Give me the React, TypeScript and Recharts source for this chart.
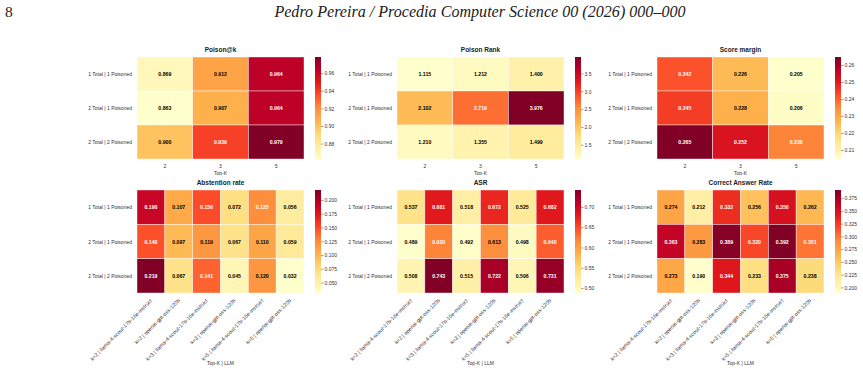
import React from 'react';
import { ScatterChart, Scatter, XAxis, YAxis, ReferenceArea } from 'recharts';

// ---- data ----
const topK = ['2', '3', '5'];
const scenarios = ['1 Total | 1 Poisoned', '2 Total | 1 Poisoned', '2 Total | 2 Poisoned'];
const topKLlm = [
  'k=2 | llama-4-scout-17b-16e-instruct',
  'k=2 | openai-gpt-oss-120b',
  'k=3 | llama-4-scout-17b-16e-instruct',
  'k=3 | openai-gpt-oss-120b',
  'k=5 | llama-4-scout-17b-16e-instruct',
  'k=5 | openai-gpt-oss-120b',
];

const poisonAtK = [
  [0.869, 0.912, 0.964],
  [0.863, 0.907, 0.964],
  [0.9, 0.939, 0.979],
];
const poisonRank = [
  [1.115, 1.212, 1.4],
  [2.102, 2.719, 3.976],
  [1.21, 1.355, 1.499],
];
const scoreMargin = [
  [0.242, 0.226, 0.205],
  [0.245, 0.228, 0.206],
  [0.265, 0.252, 0.236],
];
const abstentionRate = [
  [0.19, 0.107, 0.15, 0.072, 0.125, 0.056],
  [0.148, 0.097, 0.119, 0.067, 0.11, 0.059],
  [0.219, 0.067, 0.141, 0.045, 0.12, 0.032],
];
const asr = [
  [0.537, 0.681, 0.518, 0.672, 0.525, 0.682],
  [0.489, 0.62, 0.492, 0.613, 0.498, 0.64],
  [0.508, 0.743, 0.515, 0.722, 0.506, 0.731],
];
const correctAnswerRate = [
  [0.274, 0.212, 0.332, 0.256, 0.35, 0.262],
  [0.363, 0.283, 0.389, 0.32, 0.392, 0.301],
  [0.273, 0.19, 0.344, 0.233, 0.375, 0.238],
];

const poisonAtKTicks = [0.88, 0.9, 0.92, 0.94, 0.96];
const poisonRankTicks = [1.5, 2.0, 2.5, 3.0, 3.5];
const scoreMarginTicks = [0.21, 0.22, 0.23, 0.24, 0.25, 0.26];
const abstentionTicks = [0.05, 0.075, 0.1, 0.125, 0.15, 0.175, 0.2];
const asrTicks = [0.5, 0.55, 0.6, 0.65, 0.7];
const carTicks = [0.2, 0.225, 0.25, 0.275, 0.3, 0.325, 0.35, 0.375];

// ---- colour map (YlOrRd) ----
const YLORRD = ['#ffffcc', '#ffeda0', '#fed976', '#feb24c', '#fd8d3c', '#fc4e2a', '#e31a1c', '#bd0026', '#800026'];

const hexToRgb = (h: string) => [1, 3, 5].map((i) => parseInt(h.slice(i, i + 2), 16));

function cmap(t: number): number[] {
  const tt = Math.max(0, Math.min(1, t)) * (YLORRD.length - 1);
  const i = Math.min(Math.floor(tt), YLORRD.length - 2);
  const f = tt - i;
  const a = hexToRgb(YLORRD[i]);
  const b = hexToRgb(YLORRD[i + 1]);
  return a.map((v, k) => v + (b[k] - v) * f);
}

const rgbStr = (c: number[]) => `rgb(${c.map((v) => Math.round(v)).join(',')})`;

function textColour(c: number[]) {
  const lin = c.map((v) => {
    const s = v / 255;
    return s <= 0.03928 ? s / 12.92 : Math.pow((s + 0.055) / 1.055, 2.4);
  });
  const lum = 0.2126 * lin[0] + 0.7152 * lin[1] + 0.0722 * lin[2];
  return lum > 0.408 ? '#000' : '#fff';
}

// ---- layout ----
const SANS = '"Liberation Sans", Arial, Helvetica, sans-serif';
const SERIF = '"Liberation Serif", "Times New Roman", serif';
const PLOT_W = 167;
const Y_W = 70;
const CB_GAP = 178;
const CB_W = 6;
const LABEL_GREY = '#333';

type PanelProps = {
  id: string;
  title: string;
  cols: string[];
  values: number[][];
  ticks: number[];
  decimals: number;
  xLabel: string;
  plotX: number;
  plotY: number;
  plotH: number;
  rotated: boolean;
};

const RotatedTick = (props: any) => {
  const { x, y, payload, labels } = props;
  const label = labels[Math.floor(payload.value)];
  const ax = x + 1.5;
  const ay = y + 8;
  return (
    <text
      x={ax}
      y={ay}
      textAnchor="end"
      transform={`rotate(-45 ${ax} ${ay})`}
      fontSize={5.3}
      fill={LABEL_GREY}
      fontFamily={SANS}
    >
      {label}
    </text>
  );
};

const RowTick = (props: any) => {
  const { x, y, payload } = props;
  return (
    <text x={x} y={y} textAnchor="end" dominantBaseline="central" fontSize={5} fill={LABEL_GREY} fontFamily={SANS}>
      {scenarios[Math.floor(payload.value)]}
    </text>
  );
};

function Panel(p: PanelProps) {
  const ncol = p.cols.length;
  const nrow = scenarios.length;
  const cellW = PLOT_W / ncol;
  const cellH = p.plotH / nrow;
  const flat = p.values.flat();
  const vmin = Math.min(...flat);
  const vmax = Math.max(...flat);
  const data = p.values.flatMap((row, r) => row.map((v, c) => ({ x: c + 0.5, y: r + 0.5, v })));
  const xAxisH = p.rotated ? 73 : 16;

  const cellShape = (props: any) => {
    const { cx, cy, payload } = props;
    const col = cmap((payload.v - vmin) / (vmax - vmin));
    return (
      <g>
        <rect
          x={cx - cellW / 2}
          y={cy - cellH / 2}
          width={cellW}
          height={cellH}
          fill={rgbStr(col)}
          stroke="#ffffff"
          strokeOpacity={0.7}
          strokeWidth={0.6}
        />
        <text
          x={cx}
          y={cy}
          textAnchor="middle"
          dominantBaseline="central"
          fontSize={5.2}
          fontWeight="bold"
          fontFamily={SANS}
          fill={textColour(col)}
        >
          {payload.v.toFixed(3)}
        </text>
      </g>
    );
  };

  const gradId = `cb-${p.id}`;
  const cbShape = (props: any) => {
    const { x, y, width, height } = props;
    return (
      <g>
        <defs>
          <linearGradient id={gradId} x1="0" y1="1" x2="0" y2="0">
            {YLORRD.map((c, i) => (
              <stop key={i} offset={i / (YLORRD.length - 1)} stopColor={c} />
            ))}
          </linearGradient>
        </defs>
        <rect x={x} y={y} width={width} height={height} fill={`url(#${gradId})`} />
      </g>
    );
  };

  return (
    <>
      <div
        style={{
          position: 'absolute',
          left: p.plotX,
          top: p.plotY - 11,
          width: PLOT_W,
          textAlign: 'center',
          fontFamily: SANS,
          fontWeight: 'bold',
          fontSize: 6.5,
          lineHeight: '8px',
          color: '#222',
        }}
      >
        {p.title}
      </div>
      <div style={{ position: 'absolute', left: p.plotX - Y_W, top: p.plotY }}>
        <ScatterChart
          width={Y_W + PLOT_W + 1}
          height={p.plotH + xAxisH}
          margin={{ top: 0, right: 1, bottom: 0, left: 0 }}
        >
          <XAxis
            type="number"
            dataKey="x"
            domain={[0, ncol]}
            ticks={p.cols.map((_, i) => i + 0.5)}
            tickFormatter={(v: number) => p.cols[Math.floor(v)]}
            interval={0}
            height={xAxisH}
            tickLine={false}
            axisLine={false}
            tickSize={0}
            tickMargin={p.rotated ? 0 : 5}
            tick={
              p.rotated
                ? (tp: any) => <RotatedTick {...tp} labels={p.cols} />
                : { fontSize: 5, fill: LABEL_GREY, fontFamily: SANS }
            }
            label={{
              value: p.xLabel,
              position: 'insideBottom',
              offset: p.rotated ? 1 : 0,
              fontSize: 5,
              fill: LABEL_GREY,
              fontFamily: SANS,
            }}
          />
          <YAxis
            type="number"
            dataKey="y"
            domain={[0, nrow]}
            reversed
            ticks={scenarios.map((_, i) => i + 0.5)}
            interval={0}
            width={Y_W}
            tickLine={false}
            axisLine={false}
            tickSize={0}
            tickMargin={5}
            tick={(tp: any) => <RowTick {...tp} />}
          />
          <Scatter data={data} isAnimationActive={false} shape={cellShape} />
        </ScatterChart>
      </div>
      <div style={{ position: 'absolute', left: p.plotX + CB_GAP, top: p.plotY }}>
        <ScatterChart width={CB_W + 28} height={p.plotH} margin={{ top: 0, right: 0, bottom: 0, left: 0 }}>
          <XAxis type="number" dataKey="x" domain={[0, 1]} hide />
          <YAxis
            type="number"
            dataKey="y"
            orientation="right"
            domain={[vmin, vmax]}
            allowDataOverflow
            ticks={p.ticks}
            interval={0}
            tickFormatter={(v: number) => v.toFixed(p.decimals)}
            width={28}
            axisLine={false}
            tickSize={2.5}
            tickMargin={1}
            tickLine={{ stroke: '#444', strokeWidth: 0.5 }}
            tick={{ fontSize: 5, fill: LABEL_GREY, fontFamily: SANS }}
          />
          <ReferenceArea x1={0} x2={1} y1={vmin} y2={vmax} shape={cbShape} ifOverflow="visible" />
          <Scatter data={[{ x: 0.5, y: vmin }]} isAnimationActive={false} shape={() => <g />} />
        </ScatterChart>
      </div>
    </>
  );
}

export default function App() {
  const topY = 57;
  const botY = 190;
  const xs = [137, 397, 657];
  return (
    <div
      style={{
        position: 'absolute',
        left: 0,
        top: 0,
        width: 863,
        height: 371,
        background: '#fff',
        overflow: 'hidden',
      }}
    >
      <div
        style={{
          position: 'absolute',
          left: 5,
          top: 3,
          fontFamily: SERIF,
          fontSize: 15.5,
          lineHeight: '18px',
          color: '#222',
        }}
      >
        8
      </div>
      <div
        style={{
          position: 'absolute',
          left: 480,
          top: 3,
          transform: 'translateX(-50%)',
          whiteSpace: 'nowrap',
          fontFamily: SERIF,
          fontStyle: 'italic',
          fontSize: 16.1,
          lineHeight: '18px',
          color: '#222',
        }}
      >
        Pedro Pereira / Procedia Computer Science 00 (2026) 000–000
      </div>

      <Panel id="pk" title="Poison@k" cols={topK} values={poisonAtK} ticks={poisonAtKTicks} decimals={2}
        xLabel="Top-K" plotX={xs[0]} plotY={topY} plotH={102} rotated={false} />
      <Panel id="pr" title="Poison Rank" cols={topK} values={poisonRank} ticks={poisonRankTicks} decimals={1}
        xLabel="Top-K" plotX={xs[1]} plotY={topY} plotH={102} rotated={false} />
      <Panel id="sm" title="Score margin" cols={topK} values={scoreMargin} ticks={scoreMarginTicks} decimals={2}
        xLabel="Top-K" plotX={xs[2]} plotY={topY} plotH={102} rotated={false} />

      <Panel id="ab" title="Abstention rate" cols={topKLlm} values={abstentionRate} ticks={abstentionTicks} decimals={3}
        xLabel="Top-K | LLM" plotX={xs[0]} plotY={botY} plotH={103} rotated />
      <Panel id="asr" title="ASR" cols={topKLlm} values={asr} ticks={asrTicks} decimals={2}
        xLabel="Top-K | LLM" plotX={xs[1]} plotY={botY} plotH={103} rotated />
      <Panel id="car" title="Correct Answer Rate" cols={topKLlm} values={correctAnswerRate} ticks={carTicks} decimals={3}
        xLabel="Top-K | LLM" plotX={xs[2]} plotY={botY} plotH={103} rotated />
    </div>
  );
}
